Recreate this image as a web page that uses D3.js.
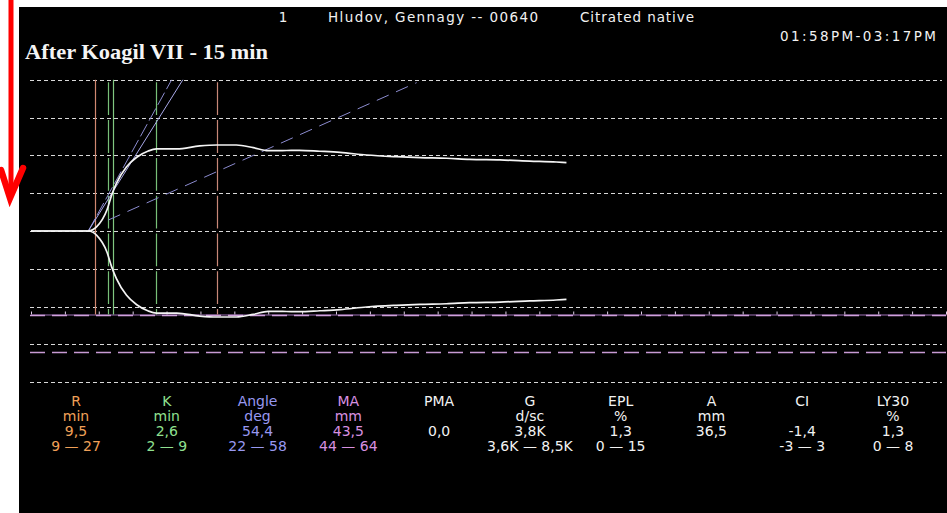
<!DOCTYPE html>
<html>
<head>
<meta charset="utf-8">
<script src="https://cdn.jsdelivr.net/npm/d3@7"></script>
<style>
  html, body { margin: 0; padding: 0; background: #fff; }
  svg { display: block; }
</style>
</head>
<body>
<svg width="947" height="513"></svg>
<script>
// tracing, time in minutes and half-amplitude in mm
var traceTime = [0, 8.45, 9.7, 11.2, 11.9, 12.6, 14.1, 15.6, 17.3, 18.5, 21.5, 24.9, 27.4, 30.3, 32.8, 35.0, 37.7, 39.6, 42.6, 45.6, 49.5, 53.9, 57.4, 61.3, 64.7, 69.2, 73.6, 77.5, 79.0];
var traceAmp = [0, 0, 2.3, 11.1, 19.0, 25.2, 34.0, 39.0, 42.3, 43.4, 43.4, 45.0, 45.5, 45.5, 44.1, 42.5, 42.6, 42.7, 42.2, 41.6, 40.2, 39.3, 38.8, 38.5, 37.9, 37.6, 37.0, 36.5, 36.2];

// vertical markers (min): R, R+Kmin, R+K, R+Kmax, Rmax
var markerTimes = [9.4, 11.4, 12.1, 18.4, 27.4];

// angle lines [t0, a0, t1, a1]
var angleLines = [
    [8.45, 0, 20.75, 80],
    [8.45, 0, 22.4, 80],
    [11.4, 5.8, 56.9, 78.5]
];

// MA normal range
var maRange = [44, 64];

var gridValues = d3.range(-80, 81, 20);
var timeTicks = d3.range(0, 136, 5);

var header = ["1", "Hludov, Gennagy -- 00640", "Citrated native"];
var timeSpan = "01:58PM-03:17PM";
var title = "After Koagil VII - 15 min";

var params = ["R", "K", "Angle", "MA", "PMA", "G", "EPL", "A", "CI", "LY30"];
var units = ["min", "min", "deg", "mm", "", "d/sc", "%", "mm", "", "%"];
var values = ["9,5", "2,6", "54,4", "43,5", "0,0", "3,8K", "1,3", "36,5", "-1,4", "1,3"];
var ranges = ["9 \u2014 27", "2 \u2014 9", "22 \u2014 58", "44 \u2014 64", "", "3,6K \u2014 8,5K", "0 \u2014 15", "", "-3 \u2014 3", "0 \u2014 8"];


var svg = d3.select("svg");

// screen background
svg.append("rect")
    .attr("x", 19).attr("y", 7)
    .attr("width", 928).attr("height", 506)
    .attr("fill", "#000");

// red arrow on the left margin
svg.append("path")
    .attr("d", "M11,0 L11,196")
    .attr("stroke", "#ff0000").attr("stroke-width", 5).attr("fill", "none");
svg.append("path")
    .attr("d", "M1,170 L10,198 L23,168")
    .attr("stroke", "#ff0000").attr("stroke-width", 6.5)
    .attr("stroke-linecap", "round").attr("stroke-linejoin", "miter")
    .attr("fill", "none");

var x = d3.scaleLinear().domain([0, 135]).range([31, 946]);
var y = d3.scaleLinear().domain([-80, 80]).range([382.2, 79.8]);

// grid
svg.append("g").selectAll("line")
    .data(gridValues)
    .enter().append("line")
    .attr("x1", 30).attr("x2", 942)
    .attr("y1", d => Math.round(y(d)) + 0.5)
    .attr("y2", d => Math.round(y(d)) + 0.5)
    .attr("stroke", "#d8d8d8")
    .attr("stroke-width", 1)
    .attr("stroke-dasharray", "4,3");

// MA range lines
var maLow = Math.round(y(-maRange[0])) + 0.5;
var axis = d3.axisTop(x).tickValues(timeTicks).tickSize(3).tickSizeOuter(0).tickFormat("");
var ax = svg.append("g")
    .attr("transform", "translate(0," + maLow + ")")
    .call(axis);
ax.select(".domain").attr("stroke", "#a070b8");
ax.selectAll(".tick line").attr("stroke", "#e0d0e8");
svg.append("line")
    .attr("x1", 30).attr("x2", 946)
    .attr("y1", maLow + 1).attr("y2", maLow + 1)
    .attr("stroke", "#d0a0dc").attr("stroke-width", 1.5)
    .attr("stroke-dasharray", "15,7");
svg.append("line")
    .attr("x1", 30).attr("x2", 946)
    .attr("y1", Math.round(y(-maRange[1])) + 0.5)
    .attr("y2", Math.round(y(-maRange[1])) + 0.5)
    .attr("stroke", "#c89ad4").attr("stroke-width", 1.5)
    .attr("stroke-dasharray", "15,7");

// vertical markers
var markerColor = ["#d08870", "#78c078", "#80c880", "#78c078", "#c88878"];
var markerDash = [null, "32.8,5", null, "32.8,5", "32.8,5"];
svg.append("g").selectAll("line")
    .data(markerTimes)
    .enter().append("line")
    .attr("x1", d => Math.round(x(d)) + 0.5)
    .attr("x2", d => Math.round(x(d)) + 0.5)
    .attr("y1", y(80)).attr("y2", maLow)
    .attr("stroke", (d, i) => markerColor[i])
    .attr("stroke-width", 1.2)
    .attr("stroke-dasharray", (d, i) => markerDash[i])
    .attr("stroke-dashoffset", 35.3);

// angle lines
var angleColor = ["#8c8cd0", "#a8a8e8", "#8c8cd0"];
var angleDash = ["14,4", null, "13,8"];
svg.append("g").selectAll("line")
    .data(angleLines)
    .enter().append("line")
    .attr("x1", d => x(d[0])).attr("y1", d => y(d[1]))
    .attr("x2", d => x(d[2])).attr("y2", d => y(d[3]))
    .attr("stroke", (d, i) => angleColor[i])
    .attr("stroke-width", 1)
    .attr("stroke-dasharray", (d, i) => angleDash[i]);

// tracing, both halves
var pts = traceTime.map((t, i) => [t, traceAmp[i]]);
var upper = d3.line().x(d => x(d[0])).y(d => y(d[1])).curve(d3.curveMonotoneX);
var lower = d3.line().x(d => x(d[0])).y(d => y(-d[1])).curve(d3.curveMonotoneX);
svg.append("path").attr("d", upper(pts))
    .attr("fill", "none").attr("stroke", "#f4f4f4").attr("stroke-width", 1.7);
svg.append("path").attr("d", lower(pts))
    .attr("fill", "none").attr("stroke", "#f4f4f4").attr("stroke-width", 1.7);

// header
var hdr = svg.append("g")
    .attr("font-family", "'DejaVu Sans', Verdana, sans-serif")
    .attr("font-size", 13.5)
    .attr("fill", "#f2f2f2");
hdr.append("text").attr("x", 283).attr("y", 22).attr("text-anchor", "middle").text(header[0]);
hdr.append("text").attr("x", 328).attr("y", 22)
    .attr("textLength", 210).attr("lengthAdjust", "spacing").text(header[1]);
hdr.append("text").attr("x", 580).attr("y", 22)
    .attr("textLength", 114).attr("lengthAdjust", "spacing").text(header[2]);
hdr.append("text").attr("x", 780).attr("y", 41)
    .attr("textLength", 156).attr("lengthAdjust", "spacing").text(timeSpan);

svg.append("text")
    .attr("x", 25).attr("y", 59)
    .attr("font-family", "'Liberation Serif', 'Times New Roman', serif")
    .attr("font-weight", "bold")
    .attr("font-size", 22)
    .attr("fill", "#f4f4f4")
    .attr("textLength", 243).attr("lengthAdjust", "spacingAndGlyphs")
    .text(title);

// results table
var col = d3.scalePoint().domain(params).range([76, 893]);
var textColor = { R: "#f0a058", K: "#90e090", Angle: "#9898f0", MA: "#d890e0" };
var rows = [params, units, values, ranges];
var rowY = [405.5, 420.5, 435.5, 450.5];

var tbl = svg.append("g")
    .attr("font-family", "'DejaVu Sans', Verdana, sans-serif")
    .attr("font-size", 14)
    .attr("text-anchor", "middle");

rows.forEach(function(row, r) {
    tbl.selectAll(null)
        .data(row)
        .enter().append("text")
        .attr("x", (d, i) => col(params[i]))
        .attr("y", rowY[r])
        .attr("fill", (d, i) => textColor[params[i]] || "#f2f2f2")
        .text(d => d);
});
</script>
</body>
</html>
